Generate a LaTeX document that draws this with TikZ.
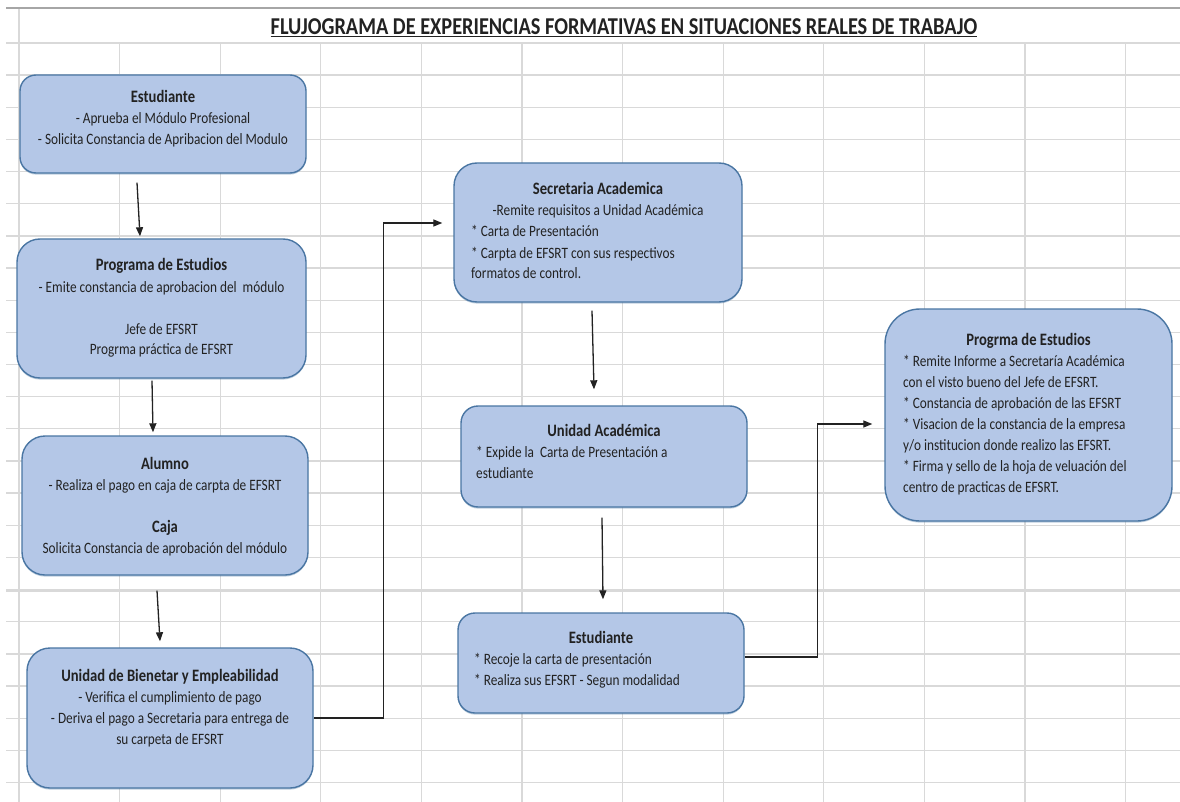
\documentclass[tikz,border=0pt]{standalone}
\usepackage{fontspec}
\setmainfont{Carlito}[FakeStretch=0.84]
\usetikzlibrary{arrows.meta,shadows}

\definecolor{boxfill}{HTML}{B4C7E7}
\definecolor{boxedge}{HTML}{4A76A3}
\definecolor{gridline}{HTML}{D9D9D9}
\definecolor{topline}{HTML}{A6A6A6}
\definecolor{ink}{HTML}{222222}

\newcommand{\bodyfont}{\fontsize{15.8}{21}\selectfont}
\newcommand{\headfont}{\fontsize{17.4}{21}\selectfont\bfseries}

\begin{document}
\begin{tikzpicture}[x=1pt,y=-1pt,
  cell/.style={draw=gridline,line width=1.3pt},
  flowbox/.style={draw=boxedge,fill=boxfill,line width=1.4pt,rounded corners=#1,
    inner sep=0pt,drop shadow={shadow xshift=0pt,shadow yshift=-1.6pt,opacity=0.35,fill=boxedge}},
  txt/.style={inner sep=0pt,text=ink,font=\bodyfont},
  arr/.style={draw=ink,line width=1.3pt,-{Triangle[length=9pt,width=7pt]}}]

\useasboundingbox (0,0) rectangle (1180,802);
\fill[white] (0,0) rectangle (1180,802);

% spreadsheet grid
\foreach \k in {0,...,23}
  \draw[cell] (6,{43+\k*32.15}) -- (1180,{43+\k*32.15});
\draw[draw=gridline,line width=2.4pt] (6,590.8) -- (1180,590.8);
\foreach \k in {0,...,11}
  \draw[cell] ({19+\k*100.6},43) -- ({19+\k*100.6},802);
\draw[cell] (19,8) -- (19,43);
\draw[draw=topline,line width=2pt] (6,8) -- (1180,8);

% title
\node[txt,anchor=base] (title) at (624,35)
  {\fontsize{24.2}{28}\selectfont\bfseries\underline{FLUJOGRAMA DE EXPERIENCIAS FORMATIVAS EN SITUACIONES REALES DE TRABAJO}};

% boxes
\node[flowbox=16pt,minimum width=286pt,minimum height=98pt]  (est1)  at (163,124) {};
\node[flowbox=23pt,minimum width=289pt,minimum height=139pt] (prog1) at (161.5,308.5) {};
\node[flowbox=23pt,minimum width=286pt,minimum height=139pt] (alum)  at (165,505.5) {};
\node[flowbox=23pt,minimum width=286pt,minimum height=140pt] (ube)   at (170,718) {};
\node[flowbox=23pt,minimum width=288pt,minimum height=139pt] (sec)   at (598,232.5) {};
\node[flowbox=17pt,minimum width=286pt,minimum height=101pt] (ua)    at (604,456.5) {};
\node[flowbox=17pt,minimum width=286pt,minimum height=100pt] (est2)  at (601,663) {};
\node[flowbox=35pt,minimum width=287pt,minimum height=212pt] (prg2)  at (1028.5,415) {};

% box texts
\node[txt,anchor=base] (est1-t) at (163,103) {\parbox[t]{280pt}{\centering
  {\headfont Estudiante}\\
  - Aprueba el Módulo Profesional\\
  - Solicita Constancia de Apribacion del Modulo}};
\node[txt,anchor=base] (prog1-t) at (161.5,271) {\parbox[t]{280pt}{\centering
  {\headfont Programa de Estudios}\\
  - Emite constancia de aprobacion del\ \ módulo\\[21pt]
  Jefe de EFSRT\\
  Progrma práctica de EFSRT}};
\node[txt,anchor=base] (alum-t) at (165,469) {\parbox[t]{280pt}{\centering
  {\headfont Alumno}\\
  - Realiza el pago en caja de carpta de EFSRT\\[21pt]
  {\headfont Caja}\\
  Solicita Constancia de aprobación del módulo}};
\node[txt,anchor=base] (ube-t) at (170,681) {\parbox[t]{280pt}{\centering
  {\headfont Unidad de Bienetar y Empleabilidad}\\
  - Verifica el cumplimiento de pago\\
  - Deriva el pago a Secretaria para entrega de\\
  su carpeta de EFSRT}};
\node[txt,anchor=base] (sec-t) at (598,195) {\parbox[t]{280pt}{\centering
  {\headfont Secretaria Academica}\\
  -Remite requisitos a Unidad Académica}};
\node[txt,anchor=base west] (sec-b) at (471,237) {\parbox[t]{265pt}{\raggedright
  * Carta de Presentación\\{}
  * Carpta de EFSRT con sus respectivos\\
  formatos de control.}};
\node[txt,anchor=base] (ua-t) at (604,436) {{\headfont Unidad Académica}};
\node[txt,anchor=base west] (ua-b) at (476,457) {\parbox[t]{265pt}{\raggedright
  * Expide la\ \ Carta de Presentación a\\
  estudiante}};
\node[txt,anchor=base] (est2-t) at (601,643) {{\headfont Estudiante}};
\node[txt,anchor=base west] (est2-b) at (474,664) {\parbox[t]{265pt}{\raggedright
  * Recoje la carta de presentación\\{}
  * Realiza sus EFSRT - Segun modalidad}};
\node[txt,anchor=base] (prg2-t) at (1028.5,345) {{\headfont Progrma de Estudios}};
\node[txt,anchor=base west] (prg2-b) at (903,366) {\parbox[t]{265pt}{\raggedright
  * Remite Informe a Secretaría Académica\\
  con el visto bueno del Jefe de EFSRT.\\{}
  * Constancia de aprobación de las EFSRT\\{}
  * Visacion de la constancia de la empresa\\
  y/o institucion donde realizo las EFSRT.\\{}
  * Firma y sello de la hoja de veluación del\\
  centro de practicas de EFSRT.}};

% connectors
\draw[arr] ([xshift=-26pt,yshift=-9pt]est1.south) -- ([xshift=-21.5pt,yshift=2pt]prog1.north);
\draw[arr] ([xshift=-9.5pt,yshift=-2pt]prog1.south) -- ([xshift=-12pt,yshift=3pt]alum.north);
\draw[arr] ([xshift=-8pt,yshift=-15pt]alum.south) -- ([xshift=-10pt,yshift=6pt]ube.north);
\draw[arr] (ube.east) -- ++(70pt,0pt) |- ([xshift=-11pt,yshift=9.5pt]sec.west);
\draw[arr] ([xshift=-6pt,yshift=-8pt]sec.south) -- ([xshift=-10pt,yshift=16pt]ua.north);
\draw[arr] ([xshift=-2pt,yshift=-10pt]ua.south) -- ([xshift=2pt,yshift=13pt]est2.north);
\draw[arr] ([yshift=6pt]est2.east) -- ++(73pt,0pt) |- ([xshift=-12pt,yshift=-9pt]prg2.west);

\end{tikzpicture}
\end{document}
